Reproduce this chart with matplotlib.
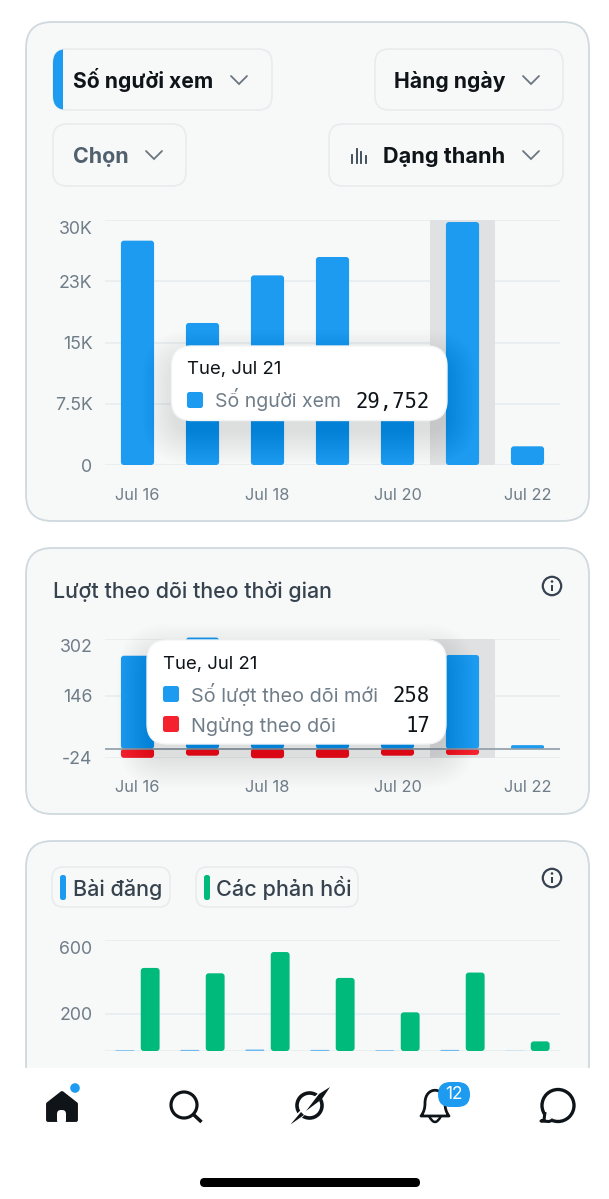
from matplotlib import pyplot as plt
from matplotlib.patches import Circle, FancyBboxPatch, PathPatch, Polygon, Rectangle
from matplotlib.path import Path
from matplotlib.transforms import ScaledTranslation

plt.rcParams['font.family'] = ['Inter', 'DejaVu Sans']

W, H, DPI = 609, 1199, 100

BLUE = '#1d9bf0'
RED = '#f4212e'
GREEN = '#00ba7c'
DARK = '#0f1419'
SLATE = '#36434f'
GREY = '#6f7d89'
GRID = '#e8edf0'
CARD = '#f7f8f8'
CARD_EDGE = '#cfd9de'
PILL_EDGE = '#e8ecee'
BAND = '#dfe1e2'

days = ['Jul 16', 'Jul 17', 'Jul 18', 'Jul 19', 'Jul 20', 'Jul 21', 'Jul 22']
x_tick_pos = [0, 2, 4, 6]
x_tick_labels = ['Jul 16', 'Jul 18', 'Jul 20', 'Jul 22']
selected_day = 5

viewers = [27470, 17390, 23220, 25470, 11000, 29752, 2290]
viewers_ticks = [0, 7500, 15000, 22500, 30000]
viewers_labels = ['0', '7.5K', '15K', '23K', '30K']

new_follows = [256, 306, 200, 220, 150, 258, 10]
unfollows = [25, 19, 26, 25, 19, 17, 0]
follows_ticks = [-24, 146, 302]
follows_labels = ['-24', '146', '302']

posts = [4, 6, 8, 6, 4, 6, 1]
replies = [449, 420, 535, 395, 209, 424, 52]
replies_ticks = [0, 200, 600]
replies_labels = ['', '200', '600']


def px_axes(x0, y_top, x1, y_bottom, zorder=1):
    ax = plt.gcf().add_axes([x0 / W, 1 - y_bottom / H, (x1 - x0) / W,
                             (y_bottom - y_top) / H], zorder=zorder)
    ax.patch.set_alpha(0)
    return ax


def rrect(ax, x0, y0, x1, y1, r, fc='none', ec='none', lw=1.5, z=2, alpha=None):
    box = FancyBboxPatch((x0, y0), x1 - x0, y1 - y0,
                         boxstyle=f'round,pad=0,rounding_size={r}',
                         fc=fc, ec=ec, lw=lw, zorder=z, alpha=alpha)
    ax.add_patch(box)
    return box


def round_bar(ax, x, bottom, top, width, color, z=3):
    """Slupek z zaokraglonymi rogami, w jednostkach danych osi."""
    x0, x1 = ax.get_xlim()
    y0, y1 = ax.get_ylim()
    box = ax.get_position()
    x_per_px = (x1 - x0) / (box.width * W)
    y_per_px = (y1 - y0) / (box.height * H)
    h_px = abs(top - bottom) / y_per_px
    r_px = min(3.0, h_px / 2)
    low = min(bottom, top)
    bar = FancyBboxPatch((x - width / 2, low), width, abs(top - bottom),
                         boxstyle=f'round,pad=0,rounding_size={r_px * x_per_px}',
                         mutation_aspect=y_per_px / x_per_px,
                         fc=color, ec='none', zorder=z, clip_on=False)
    ax.add_patch(bar)
    return bar


def style_axis(ax, ticks, labels, show_x=True, x_pad=16.5, top_shift=0):
    ax.set_xlim(-0.5, 6.5)
    for spine in ax.spines.values():
        spine.set_visible(False)
    ax.set_yticks(ticks)
    ax.set_yticklabels(labels, fontsize=12.8, color=GREY)
    ax.grid(axis='y', color=GRID, lw=1.25)
    ax.set_axisbelow(True)
    ax.tick_params(axis='y', length=0, pad=9)
    if show_x:
        ax.set_xticks(x_tick_pos)
        ax.set_xticklabels(x_tick_labels, fontsize=11.8, color=GREY)
        ax.tick_params(axis='x', length=0, pad=x_pad)
    else:
        ax.set_xticks([])
    # najwyzsza etykieta jest zsunieta w dol, zeby nie wychodzila poza wykres
    if top_shift:
        lab = ax.get_yticklabels()[-1]
        lab.set_transform(lab.get_transform()
                          + ScaledTranslation(0, -top_shift / DPI, plt.gcf().dpi_scale_trans))


def chevron(ax, x, y, color='#6b7680'):
    ax.plot([x - 8, x, x + 8], [y - 4, y + 4, y - 4], color=color, lw=1.3, zorder=4,
            solid_capstyle='round', solid_joinstyle='miter')


def tooltip(ax, x0, y0, x1, y1, z=10):
    # miekki cien pod dymkiem
    for i in range(26):
        grow = 30 - i * 1.3
        rrect(ax, x0 - grow, y0 - grow + 14, x1 + grow, y1 + grow + 14, 20 + grow,
              fc='black', z=z, alpha=0.0055)
    rrect(ax, x0, y0, x1, y1, 20, fc='white', ec='#f2f4f5', lw=1, z=z + 1)


def info_icon(ax, x, y):
    ax.add_patch(Circle((x, y), 9.2, fc='none', ec=SLATE, lw=1.6, zorder=4))
    ax.add_patch(Rectangle((x - 1, y - 1.5), 2, 6.5, fc=SLATE, zorder=4))
    ax.add_patch(Circle((x, y - 4.5), 1.3, fc=SLATE, zorder=4))


fig = plt.figure(figsize=(W / DPI, H / DPI), dpi=DPI, facecolor='white')

# warstwa tla: karty i przyciski, we wspolrzednych ekranu
bg = px_axes(0, 0, W, H, zorder=0)
bg.set_xlim(0, W)
bg.set_ylim(H, 0)
bg.axis('off')

rrect(bg, 26, 22, 589, 521, 26, fc=CARD, ec=CARD_EDGE, lw=1.3)
rrect(bg, 26, 548, 589, 814, 26, fc=CARD, ec=CARD_EDGE, lw=1.3)
rrect(bg, 26, 841, 589, 1110, 26, fc=CARD, ec=CARD_EDGE, lw=1.3)

pill = rrect(bg, 53, 49, 272, 110, 14, fc=CARD, ec=PILL_EDGE, lw=1.2)
strip = bg.add_patch(Rectangle((53, 49), 10, 61, fc=BLUE, zorder=3))
strip.set_clip_path(pill)
rrect(bg, 375, 49, 563, 110, 14, fc=CARD, ec=PILL_EDGE, lw=1.2)
rrect(bg, 53, 124, 186, 186, 14, fc=CARD, ec=PILL_EDGE, lw=1.2)
rrect(bg, 329, 124, 563, 186, 14, fc=CARD, ec=PILL_EDGE, lw=1.2)

bg.text(73, 87.5, 'Số người xem', fontsize=15.2, fontweight='bold', color=DARK,
        va='baseline', ha='left', zorder=4)
bg.text(394, 87.5, 'Hàng ngày', fontsize=15.2, fontweight='bold', color=DARK,
        va='baseline', ha='left', zorder=4)
bg.text(73, 163, 'Chọn', fontsize=15.4, fontweight='bold', color='#51606d',
        va='baseline', ha='left', zorder=4)
bg.text(383, 163, 'Dạng thanh', fontsize=15.6, fontweight='bold', color=DARK,
        va='baseline', ha='left', zorder=4)
chevron(bg, 239, 80)
chevron(bg, 531, 80)
chevron(bg, 154, 155)
chevron(bg, 531, 155)

# mala ikona wykresu slupkowego
for bx, by in zip([352, 356.5, 361, 365.5], [155, 149, 152, 156]):
    bg.plot([bx, bx], [by, 163], color=SLATE, lw=1.3, zorder=4)

bg.text(53, 597.5, 'Lượt theo dõi theo thời gian', fontsize=15.4, fontweight='medium',
        color=SLATE, va='baseline', ha='left', zorder=4)
info_icon(bg, 552, 586)

rrect(bg, 52, 867, 170, 907, 11, fc=CARD, ec=PILL_EDGE, lw=1.2)
rrect(bg, 196, 867, 358, 907, 11, fc=CARD, ec=PILL_EDGE, lw=1.2)
rrect(bg, 60, 875, 66, 900, 2.5, fc=BLUE, z=4)
rrect(bg, 204, 875, 210, 900, 2.5, fc=GREEN, z=4)
bg.text(73, 895.5, 'Bài đăng', fontsize=15.5, fontweight='medium', color=SLATE,
        va='baseline', ha='left', zorder=4)
bg.text(216, 895.5, 'Các phản hồi', fontsize=15.6, fontweight='medium', color=SLATE,
        va='baseline', ha='left', zorder=4)
info_icon(bg, 552, 878)

# Wykres 1: liczba widzow
ax1 = px_axes(105, 220, 560, 465)
ax1.set_ylim(0, 30000)
style_axis(ax1, viewers_ticks, viewers_labels, top_shift=8)
ax1.axvspan(selected_day - 0.5, selected_day + 0.5, color=BAND, lw=0, zorder=1)
for i, v in enumerate(viewers):
    round_bar(ax1, i, 0, v, 0.51, BLUE)

# Wykres 2: obserwujacy
ax2 = px_axes(105, 639, 560, 757.5)
ax2.set_ylim(-24, 302)
style_axis(ax2, follows_ticks, follows_labels, top_shift=6.5)
ax2.axvspan(selected_day - 0.5, selected_day + 0.5, color=BAND, lw=0, zorder=1)
for i, (n, u) in enumerate(zip(new_follows, unfollows)):
    round_bar(ax2, i, 0, n, 0.51, BLUE)
    if u:
        round_bar(ax2, i, -u, 0, 0.51, RED)
ax2.axhline(0, color='#8e9ca8', lw=1.2, zorder=5)

# Wykres 3: posty i odpowiedzi
ax3 = px_axes(105, 940, 560, 1051)
ax3.set_ylim(0, 600)
style_axis(ax3, replies_ticks, replies_labels, show_x=False, top_shift=8)
for i, (p, r) in enumerate(zip(posts, replies)):
    round_bar(ax3, i - 0.195, 0, p, 0.29, '#6db8ec')
    round_bar(ax3, i + 0.195, 0, r, 0.29, GREEN)

# warstwa wierzchnia: dymki i dolny pasek
top = px_axes(0, 0, W, H, zorder=5)
top.set_xlim(0, W)
top.set_ylim(H, 0)
top.axis('off')

tooltip(top, 171.5, 346, 447, 420.5)
top.text(187, 374, 'Tue, Jul 21', fontsize=13.4, color=DARK, va='baseline', ha='left', zorder=12)
rrect(top, 187, 392, 203, 408, 2.5, fc=BLUE, z=12)
top.text(215, 407, 'Số người xem', fontsize=14, color=GREY, va='baseline', ha='left', zorder=12)
top.text(430, 408, '29,752', fontsize=14.9, family='DejaVu Sans Mono', color=DARK,
         va='baseline', ha='right', zorder=12)

tooltip(top, 147, 640, 446, 744)
top.text(163, 668.5, 'Tue, Jul 21', fontsize=13.4, color=DARK, va='baseline', ha='left', zorder=12)
rrect(top, 163, 686, 179, 702, 2.5, fc=BLUE, z=12)
rrect(top, 163, 716, 179, 732, 2.5, fc=RED, z=12)
top.text(191, 702, 'Số lượt theo dõi mới', fontsize=14.3, color=GREY, va='baseline', ha='left', zorder=12)
top.text(191, 732, 'Ngừng theo dõi', fontsize=14.3, color=GREY, va='baseline', ha='left', zorder=12)
top.text(430, 702, '258', fontsize=14.9, family='DejaVu Sans Mono', color=DARK,
         va='baseline', ha='right', zorder=12)
top.text(430, 732, '17', fontsize=14.9, family='DejaVu Sans Mono', color=DARK,
         va='baseline', ha='right', zorder=12)

top.add_patch(Rectangle((0, 1068), W, H - 1068, fc='white', ec='none', zorder=20))

# ikony nawigacji
home = Polygon([(62, 1093), (48, 1104), (48, 1120), (76, 1120), (76, 1104)],
               fc=DARK, ec=DARK, lw=2.8, joinstyle='round', zorder=21)
top.add_patch(home)
rrect(top, 57, 1110, 66, 1124, 4, fc='white', z=22)
top.add_patch(Circle((75, 1088), 4.8, fc=BLUE, zorder=22))

top.add_patch(Circle((184, 1105), 13, fc='none', ec=DARK, lw=2.3, zorder=21))
top.plot([193.5, 201.5], [1114.5, 1122], color=DARK, lw=2.5, solid_capstyle='butt', zorder=21)

top.add_patch(Circle((309.5, 1105.5), 12.5, fc='none', ec=DARK, lw=2.6, zorder=21))
top.plot([294, 326], [1121, 1090], color='white', lw=4.5, zorder=22)
top.add_patch(Polygon([(330, 1087), (322, 1099), (306, 1111), (319, 1094)],
                      fc=DARK, ec='none', zorder=23))
top.add_patch(Polygon([(290.5, 1124.5), (301, 1112), (304, 1115)],
                      fc=DARK, ec='none', zorder=23))

bell = Path([(421, 1116), (424, 1112), (425, 1108), (425, 1103),
             (425, 1086), (445, 1086), (445, 1103),
             (445, 1108), (446, 1112), (449, 1116), (421, 1116)],
            [Path.MOVETO, Path.CURVE4, Path.CURVE4, Path.CURVE4,
             Path.CURVE4, Path.CURVE4, Path.CURVE4,
             Path.CURVE4, Path.CURVE4, Path.CURVE4, Path.CLOSEPOLY])
top.add_patch(PathPatch(bell, fc='none', ec=DARK, lw=2, joinstyle='round', zorder=21))
clapper = Path([(429, 1116), (435, 1128), (441, 1116)], [Path.MOVETO, Path.CURVE3, Path.CURVE3])
top.add_patch(PathPatch(clapper, fc='none', ec=DARK, lw=1.8, zorder=21))
rrect(top, 438, 1082, 470, 1107, 12.5, fc=BLUE, z=22)
top.text(454, 1094.5, '12', fontsize=12.5, color='white', va='center', ha='center', zorder=23)

top.add_patch(Circle((558, 1105.5), 16, fc='white', ec=DARK, lw=2.4, zorder=21))
top.add_patch(Polygon([(545, 1112), (544, 1120), (541, 1121), (549, 1121.5), (553, 1120)],
                      closed=False, fc='white', ec=DARK, lw=2.2, joinstyle='round', zorder=22))

# pasek gestu systemowego
rrect(top, 200, 1178, 420, 1187, 4.5, fc='black', z=21)

fig.savefig('out.png', dpi=DPI, facecolor='white')
